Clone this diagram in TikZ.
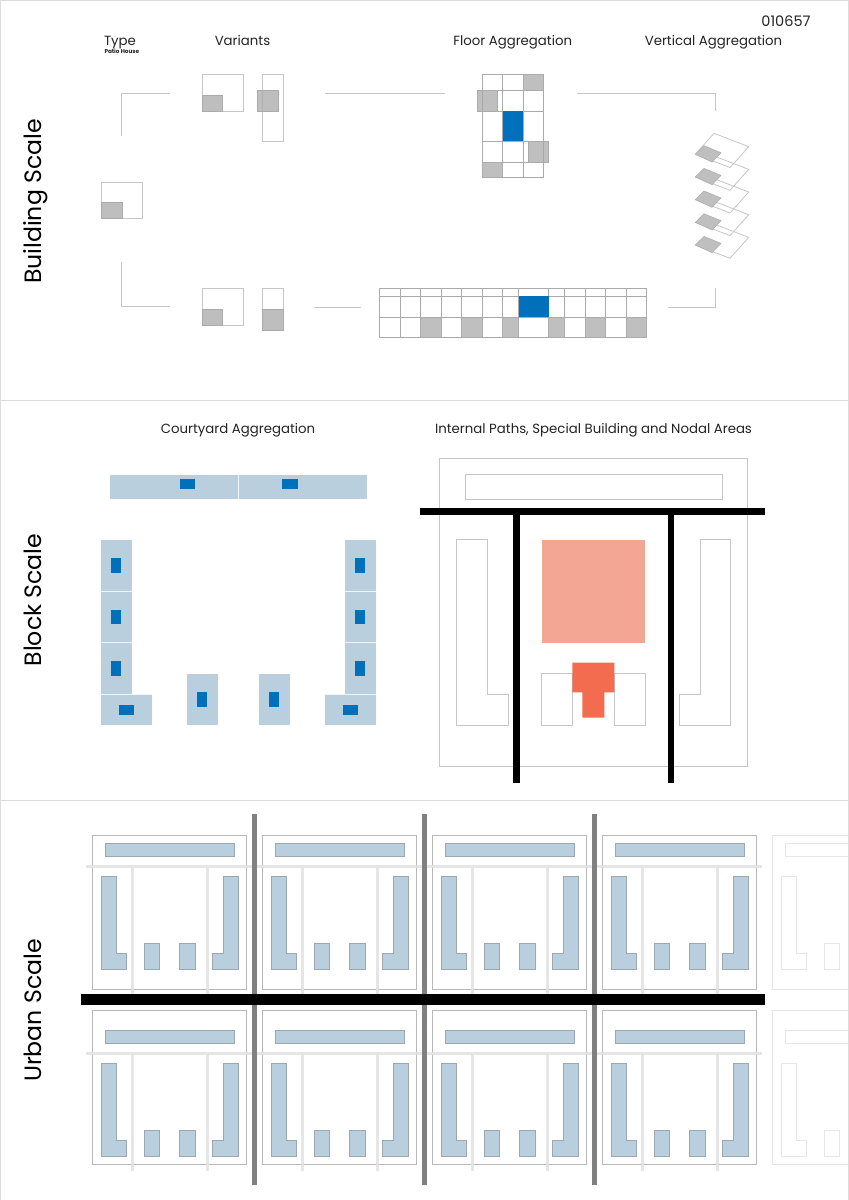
\documentclass[tikz,border=0pt]{standalone}
\usepackage{fontspec}
\setmainfont{Poppins}
\definecolor{frameln}{HTML}{DCDCDC}
\definecolor{lineg}{HTML}{C6C6C6}
\definecolor{gridg}{HTML}{ABABAB}
\definecolor{patio}{HTML}{A6A6A6}
\definecolor{pale}{HTML}{B9CFDE}
\definecolor{paleln}{HTML}{9BA8B2}
\definecolor{core}{HTML}{0070BB}
\definecolor{salmon}{HTML}{F3A694}
\definecolor{redor}{HTML}{F36C4F}
\definecolor{roadlt}{HTML}{E2E2E2}
\definecolor{roaddk}{HTML}{808080}
\definecolor{fadeln}{HTML}{E6E6E6}
\definecolor{inkc}{HTML}{222222}
\tikzset{
  x=1pt,y=-1pt,
  frameline/.style={draw=frameln,line width=1pt},
  conn/.style={draw=lineg,line width=1pt},
  cell/.style={draw=lineg,line width=1pt,fill=white},
  gridln/.style={draw=gridg,line width=.8pt},
  patioarea/.style={fill=patio,fill opacity=.72,draw=gridg,line width=.7pt},
  coreblue/.style={fill=core,draw=none},
  platedge/.style={draw=lineg,line width=.8pt},
  tile/.style={fill=pale,draw=none},
  tilejoin/.style={draw=white!80!pale,line width=.6pt},
  outline/.style={draw=lineg,line width=.9pt},
  blackroad/.style={fill=black,draw=none},
  head/.style={anchor=base,inner sep=0pt,text=inkc,font=\fontsize{13.3}{15}\selectfont},
  scalelabel/.style={anchor=base,inner sep=0pt,text=black,rotate=90,font=\fontsize{23.6}{28}\selectfont},
  lot/.style={fill=pale,draw=paleln,line width=.8pt},
  lotfade/.style={draw=fadeln,line width=.8pt},
  uouter/.style={draw=gridg!85,line width=.8pt},
  uouterfade/.style={draw=fadeln,line width=.8pt},
  lightroad/.style={draw=roadlt,line width=3pt,opacity=.85},
}
% one urban block's buildings, local origin: (92.3, top of the L wings)
\newcommand{\lotplan}[1]{%
  \draw[#1] (13,-32.6) rectangle (141.7,-20);
  \draw[#1] (8.7,0)--(24.4,0)--(24.4,77)--(34.4,77)--(34.4,92.7)--(8.7,92.7)--cycle;
  \draw[#1] (51.7,67) rectangle (67.4,92.7);
  \draw[#1] (87.4,67) rectangle (103.4,92.7);
  \draw[#1] (146.4,0)--(130.7,0)--(130.7,77)--(120,77)--(120,92.7)--(146.4,92.7)--cycle;
}
\begin{document}
\begin{tikzpicture}
\useasboundingbox (0,0) rectangle (849,1200);
% frame
\draw[frameline] (0.6,1200)--(0.6,0.5)--(848.3,0.5)--(848.3,1200);
\draw[frameline] (0,400)--(849,400);
\draw[frameline] (0,800)--(849,800);
% texts
\node[anchor=base,inner sep=0pt,text=inkc,font=\fontsize{14.5}{16}\selectfont] (code) at (786,26) {010657};
\node[head] (tType) at (120,45) {Type};
\node[anchor=base,inner sep=0pt,text=inkc,font=\fontsize{5.7}{6}\bfseries\selectfont] (tPatio) at (121.8,53) {Patio House};
\node[head] (tVar) at (242.5,45) {Variants};
\node[head] (tFloor) at (512.7,45) {Floor Aggregation};
\node[head] (tVert) at (713.5,45) {Vertical Aggregation};
\node[head] (tCourt) at (238,433) {Courtyard Aggregation};
\node[head] (tPaths) at (593.5,433) {Internal Paths, Special Building and Nodal Areas};
\node[scalelabel] (sB) at (41.7,201.5) {Building Scale};
\node[scalelabel] (sK) at (41.7,600) {Block Scale};
\node[scalelabel] (sU) at (41.7,1010.5) {Urban Scale};
% connectors of the building scale
\draw[conn] (170,93)--(121.3,93)--(121.3,135.7);
\draw[conn] (325,93)--(445,93);
\draw[conn] (577,93)--(715.5,93)--(715.5,110.7);
\draw[conn] (121.3,262.3)--(121.3,306.7)--(170,306.7);
\draw[conn] (314.3,307)--(361,307);
\draw[conn] (668.3,307)--(715.7,307)--(715.7,288.3);
% type
\draw[cell] (101,182) rectangle (142.3,218.3);
\path[patioarea] (101,202.3) rectangle (122,218.3);
% variants, top
\draw[cell] (202,74.7) rectangle (243.3,111);
\path[patioarea] (202,95.3) rectangle (222.7,111);
\draw[cell] (262.3,74.7) rectangle (283.3,141.7);
\path[patioarea] (257.3,90) rectangle (278.3,111);
% variants, bottom
\draw[cell] (202,288.3) rectangle (243.3,325);
\path[patioarea] (202,309) rectangle (222.7,325);
\draw[cell] (262.3,288.3) rectangle (283.3,330);
\path[patioarea] (262.3,309) rectangle (283.3,330);
% floor aggregation, vertical
\foreach \xx in {482,502.7,523.3,543.7} \draw[gridln] (\xx,74.7)--(\xx,177.7);
\foreach \yy in {74.7,90.3,111,141.3,162,177.7} \draw[gridln] (482,\yy)--(543.7,\yy);
\path[patioarea] (523.3,74.7) rectangle (543.7,90.3);
\path[patioarea] (477,90.3) rectangle (497.7,111);
\path[patioarea] (528.3,141.3) rectangle (548.7,162);
\path[patioarea] (482,162) rectangle (502.7,177.7);
\path[coreblue] (502.7,111) rectangle (523.3,141.3);
% floor aggregation, horizontal
\foreach \xx in {379,400,420.5,441,461.5,482,502.5,518.7,548.7,564.7,585,605.7,626.3,646.7}
  \draw[gridln] (\xx,288.3)--(\xx,337.7);
\foreach \yy in {288.3,296.3,317,337.7} \draw[gridln] (379,\yy)--(646.7,\yy);
\foreach \xa/\xb in {420.5/441,461.5/482,502.5/518.7,548.7/564.7,585/605.7,626.3/646.7}
  \path[patioarea] (\xa,317) rectangle (\xb,337.7);
\path[coreblue] (518.7,296.3) rectangle (548.7,317);
% vertical aggregation
\foreach \i in {4,3,2,1} {
  \begin{scope}[shift={(0,22.67*\i)}]
    \draw[platedge] (714,133.3)--(748.7,146.7)--(730,167.6)--(695.3,154.3);
  \end{scope}
}
\draw[platedge] (714,133.3)--(748.7,146.7)--(730,167.6)--(695.3,154.3)--cycle;
\foreach \i in {0,1,2,3,4} {
  \begin{scope}[shift={(0,22.67*\i)}]
    \path[fill=patio!72!white,draw=gridg,line width=.5pt] (695.3,154.3)--(704,145.7)--(721,152.7)--(712,162)--cycle;
  \end{scope}
}
% courtyard aggregation
\path[tile] (110,475) rectangle (366.7,499);
\draw[tilejoin] (238.3,475)--(238.3,499);
\path[coreblue] (179.7,479) rectangle (194.7,489);
\path[coreblue] (282.3,479) rectangle (297.7,489);
\foreach \xa/\xb/\xc/\xd in {101/131.7/111.3/121.3,345/375.7/355.3/365.3} {
  \path[tile] (\xa,540) rectangle (\xb,694);
  \foreach \yy in {591.3,642.5} \draw[tilejoin] (\xa,\yy)--(\xb,\yy);
  \path[coreblue] (\xc,558) rectangle (\xd,573);
  \path[coreblue] (\xc,609.7) rectangle (\xd,624.3);
  \path[coreblue] (\xc,661) rectangle (\xd,676);
}
\path[tile] (101,694) rectangle (152,724.7);
\draw[tilejoin] (101,694)--(152,694);
\path[coreblue] (119.3,705) rectangle (134.3,714.7);
\path[tile] (324.7,694) rectangle (375.7,724.7);
\draw[tilejoin] (324.7,694)--(375.7,694);
\path[coreblue] (343,705) rectangle (357.7,714.7);
\path[tile] (187,674) rectangle (217.7,724.7);
\path[coreblue] (197.3,692) rectangle (207.3,707);
\path[tile] (259,674) rectangle (289.7,724.7);
\path[coreblue] (269.3,692) rectangle (279.3,707);
% internal paths, special building and nodal areas
\draw[outline] (439,458) rectangle (747.7,766.3);
\draw[outline] (465.3,474.7) rectangle (722.7,499.7);
\draw[outline] (456.7,539.7)--(487.3,539.7)--(487.3,694.3)--(508.3,694.3)--(508.3,725)--(456.7,725)--cycle;
\draw[outline] (730.7,539.7)--(700,539.7)--(700,694.3)--(679.3,694.3)--(679.3,725)--(730.7,725)--cycle;
\path[fill=salmon] (541.7,539.7) rectangle (645,642.7);
\draw[outline] (541.7,673.3) rectangle (572.7,725);
\draw[outline] (614,673.3) rectangle (645,725);
\path[fill=redor] (572.3,662.7)--(614.3,662.7)--(614.3,692.3)--(604.3,692.3)--(604.3,717.7)--(582.3,717.7)--(582.3,692.3)--(572.3,692.3)--cycle;
\path[blackroad] (420,508) rectangle (765.3,514.7);
\path[blackroad] (513,514) rectangle (519.7,782.7);
\path[blackroad] (667.7,514) rectangle (674.3,782.7);
% urban scale
\begin{scope}
\clip (0,801) rectangle (847.8,1200);
\foreach \bx in {0,170,340,510} {
  \begin{scope}[shift={(92.3+\bx,876.3)}]
    \draw[uouter] (0,-41) rectangle (154.4,113.4);
    \lotplan{lot}
  \end{scope}
  \begin{scope}[shift={(92.3+\bx,1063.3)}]
    \draw[uouter] (0,-53) rectangle (154.4,101);
    \lotplan{lot}
  \end{scope}
}
\begin{scope}[shift={(772.3,876.3)}]
  \draw[uouterfade] (0,-41) rectangle (154.4,113.4);
  \lotplan{lotfade}
\end{scope}
\begin{scope}[shift={(772.3,1063.3)}]
  \draw[uouterfade] (0,-53) rectangle (154.4,101);
  \lotplan{lotfade}
\end{scope}
\end{scope}
\foreach \ry/\re in {866.7/994,1053.3/1171} {
  \draw[lightroad] (86,\ry)--(761.7,\ry);
  \foreach \bx in {0,170,340,510} {
    \draw[lightroad] (132.7+\bx,\ry)--(132.7+\bx,\re);
    \draw[lightroad] (207+\bx,\ry)--(207+\bx,\re);
  }
}
\foreach \bx in {0,170,340} \path[fill=roaddk] (252.4+\bx,814.3) rectangle (257+\bx,1185);
\path[blackroad] (80.7,994.3) rectangle (765.3,1004.7);
\end{tikzpicture}
\end{document}
